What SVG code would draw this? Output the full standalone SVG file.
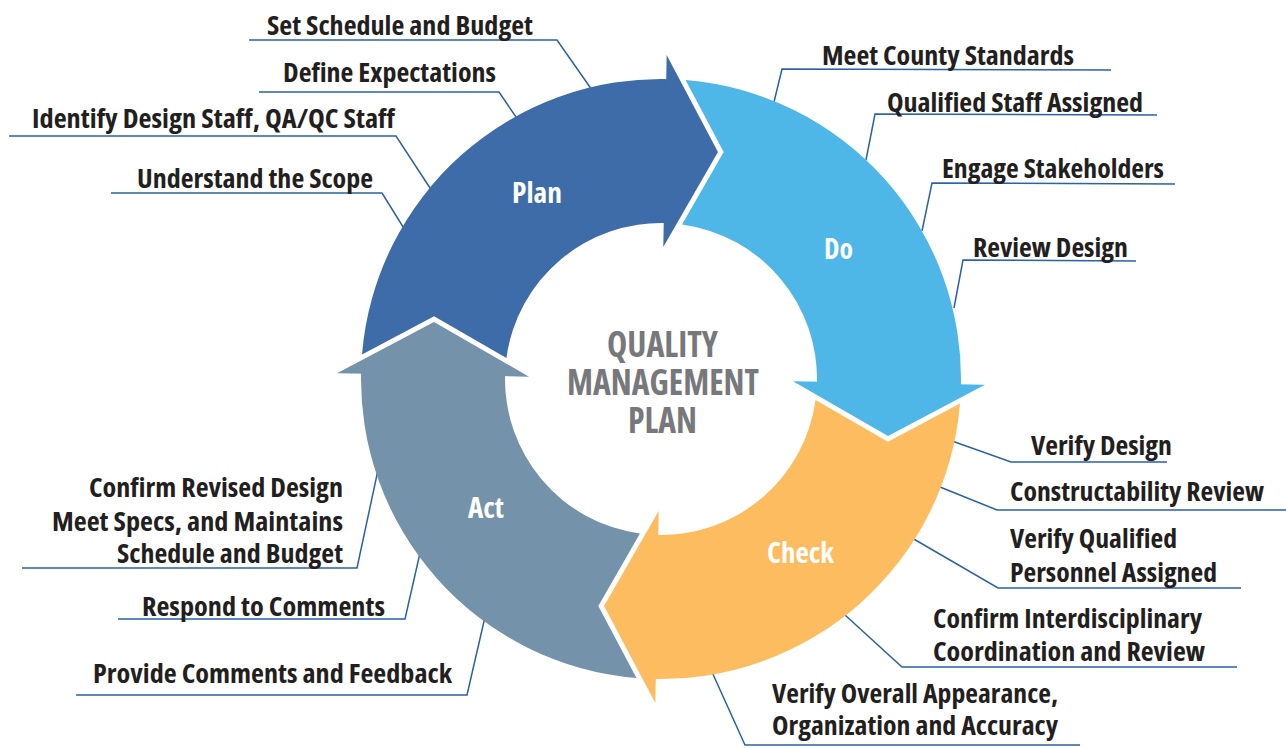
<svg xmlns="http://www.w3.org/2000/svg" xmlns:xlink="http://www.w3.org/1999/xlink" width="1286" height="748" viewBox="0 0 1286 748">
<style>
.lbl{font-family:"Open Sans","Liberation Sans",sans-serif;font-weight:700;font-stretch:condensed;font-size:26px;fill:#231f20}
.seg{font-family:"Open Sans","Liberation Sans",sans-serif;font-weight:700;font-stretch:condensed;font-size:28px;fill:#ffffff}
.ctr{font-family:"Open Sans","Liberation Sans",sans-serif;font-weight:700;font-stretch:condensed;font-size:35px;fill:#77787b}
.ln{fill:none;stroke:#2a62a2;stroke-width:1.5}
</style>
<defs>
<path id="band" d="M 685.52 80.00 A 300 300 0 0 1 960.82 389.47 L 816.90 384.44 A 156 156 0 0 0 682.05 224.43 L 723.68 152.06 Z"/>
<path id="head" d="M 984.95 384.65 L 888.04 435.97 L 792.98 381.30 Z"/>
</defs>
<rect width="1286" height="748" fill="#ffffff"/>
<g id="connectors">
<polyline class="ln" points="249,40 557,40 592,90"/>
<polyline class="ln" points="259,92 499,92 518,120"/>
<polyline class="ln" points="9,136 396,136 432,191"/>
<polyline class="ln" points="111,193 382,193 405,230"/>
<polyline class="ln" points="774,102 782,69 1111,70"/>
<polyline class="ln" points="866,160 875,114 1157,115"/>
<polyline class="ln" points="922,231 932,183 1175,184"/>
<polyline class="ln" points="954,308 963,260 1136,261"/>
<polyline class="ln" points="952,441 1011,462 1167,462"/>
<polyline class="ln" points="940,487 997,510 1286,510"/>
<polyline class="ln" points="912,538 998,588 1241,588"/>
<polyline class="ln" points="845,615 902,667 1237,667"/>
<polyline class="ln" points="712,672 745,745 1080,745"/>
<polyline class="ln" points="22,568 357,568 378,470"/>
<polyline class="ln" points="118,619 405,619 420,553"/>
<polyline class="ln" points="76,695 467,695 485,617"/>
</g>
<g id="plan">
<use xlink:href="#band" transform="rotate(270 661 379)" fill="#3d6ca8"/>
<use xlink:href="#head" transform="rotate(270 661 379)" fill="#3d6ca8"/>
<text class="seg" x="512" y="203" textLength="50" lengthAdjust="spacingAndGlyphs">Plan</text>
</g>
<g id="do">
<use xlink:href="#band" fill="#4fb7e7"/>
<use xlink:href="#head" fill="#4fb7e7"/>
<text class="seg" x="824" y="259" textLength="29" lengthAdjust="spacingAndGlyphs">Do</text>
</g>
<g id="check">
<use xlink:href="#band" transform="rotate(90 661 379)" fill="#fdbc5f"/>
<use xlink:href="#head" transform="rotate(90 661 379)" fill="#fdbc5f"/>
<text class="seg" x="767" y="563" textLength="67" lengthAdjust="spacingAndGlyphs">Check</text>
</g>
<g id="act">
<use xlink:href="#band" transform="rotate(180 661 379)" fill="#7492aa"/>
<use xlink:href="#head" transform="rotate(180 661 379)" fill="#7492aa"/>
<text class="seg" x="468" y="518" textLength="36" lengthAdjust="spacingAndGlyphs">Act</text>
</g>
<g id="center">
<text class="ctr"><tspan x="607" y="357" textLength="111" lengthAdjust="spacingAndGlyphs">QUALITY</tspan><tspan x="567" y="395" textLength="192" lengthAdjust="spacingAndGlyphs">MANAGEMENT</tspan><tspan x="628" y="433" textLength="69" lengthAdjust="spacingAndGlyphs">PLAN</tspan></text>
</g>
<g id="plan-items">
<text class="lbl" x="267" y="35" textLength="266" lengthAdjust="spacingAndGlyphs">Set Schedule and Budget</text>
<text class="lbl" x="283" y="82" textLength="213" lengthAdjust="spacingAndGlyphs">Define Expectations</text>
<text class="lbl" x="32" y="128" textLength="363" lengthAdjust="spacingAndGlyphs">Identify Design Staff, QA/QC Staff</text>
<text class="lbl" x="137" y="188" textLength="236" lengthAdjust="spacingAndGlyphs">Understand the Scope</text>
</g>
<g id="do-items">
<text class="lbl" x="822" y="65" textLength="252" lengthAdjust="spacingAndGlyphs">Meet County Standards</text>
<text class="lbl" x="887" y="112" textLength="256" lengthAdjust="spacingAndGlyphs">Qualified Staff Assigned</text>
<text class="lbl" x="942" y="178" textLength="222" lengthAdjust="spacingAndGlyphs">Engage Stakeholders</text>
<text class="lbl" x="973" y="257" textLength="155" lengthAdjust="spacingAndGlyphs">Review Design</text>
</g>
<g id="check-items">
<text class="lbl" x="1031" y="455" textLength="141" lengthAdjust="spacingAndGlyphs">Verify Design</text>
<text class="lbl" x="1010" y="501" textLength="254" lengthAdjust="spacingAndGlyphs">Constructability Review</text>
<text class="lbl"><tspan x="1010" y="548" textLength="167" lengthAdjust="spacingAndGlyphs">Verify Qualified</tspan><tspan x="1010" y="582" textLength="207" lengthAdjust="spacingAndGlyphs">Personnel Assigned</tspan></text>
<text class="lbl"><tspan x="933" y="628" textLength="269" lengthAdjust="spacingAndGlyphs">Confirm Interdisciplinary</tspan><tspan x="933" y="661" textLength="272" lengthAdjust="spacingAndGlyphs">Coordination and Review</tspan></text>
<text class="lbl"><tspan x="772" y="703" textLength="286" lengthAdjust="spacingAndGlyphs">Verify Overall Appearance,</tspan><tspan x="772" y="735" textLength="286" lengthAdjust="spacingAndGlyphs">Organization and Accuracy</tspan></text>
</g>
<g id="act-items">
<text class="lbl"><tspan x="89" y="497" textLength="254" lengthAdjust="spacingAndGlyphs">Confirm Revised Design</tspan><tspan x="52" y="531" textLength="291" lengthAdjust="spacingAndGlyphs">Meet Specs, and Maintains</tspan><tspan x="117" y="563" textLength="226" lengthAdjust="spacingAndGlyphs">Schedule and Budget</tspan></text>
<text class="lbl" x="142" y="616" textLength="243" lengthAdjust="spacingAndGlyphs">Respond to Comments</text>
<text class="lbl" x="93" y="683" textLength="359" lengthAdjust="spacingAndGlyphs">Provide Comments and Feedback</text>
</g>
</svg>
